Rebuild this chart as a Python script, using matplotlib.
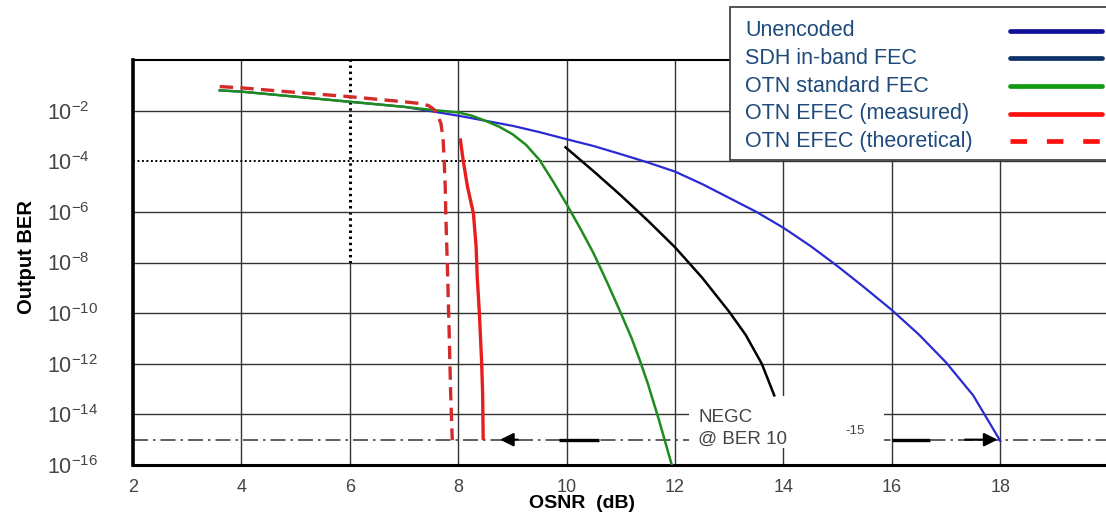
import numpy as np
import matplotlib
matplotlib.use("Agg")
import matplotlib.pyplot as plt
from matplotlib.lines import Line2D
from matplotlib.patches import Rectangle

plt.rcParams['font.family'] = ['Liberation Sans', 'DejaVu Sans']
plt.rcParams['mathtext.fontset'] = 'custom'
plt.rcParams['mathtext.rm'] = 'Liberation Sans'
plt.rcParams['mathtext.it'] = 'Liberation Sans'

W, H = 1106, 512

# OSNR (dB) against log10(output BER)
unenc_x = [3.6, 4, 5, 6, 7, 8, 8.5, 9, 9.5, 10, 10.5, 11, 11.5, 12, 12.5, 13, 13.5, 14,
           14.5, 15, 15.5, 16, 16.5, 17, 17.5, 18]
unenc_y = [-1.2, -1.25, -1.45, -1.65, -1.85, -2.2, -2.4, -2.6, -2.85, -3.13, -3.4, -3.72,
           -4.05, -4.41, -4.9, -5.45, -6.0, -6.63, -7.35, -8.15, -9.0, -9.88, -10.85,
           -11.95, -13.25, -15.05]

sdh_x = [9.98, 10.5, 11, 11.5, 12, 12.5, 13, 13.3, 13.6, 13.83]
sdh_y = [-3.45, -4.4, -5.35, -6.35, -7.4, -8.6, -9.95, -10.85, -12.0, -13.25]

otn_x = [3.6, 4, 5, 6, 7, 7.5, 8, 8.25, 8.5, 8.75, 9, 9.25, 9.5, 9.75, 10, 10.25, 10.5,
         10.75, 11, 11.2, 11.35, 11.5, 11.7, 11.94]
otn_y = [-1.2, -1.25, -1.45, -1.65, -1.85, -1.97, -2.07, -2.2, -2.4, -2.63, -2.93, -3.35,
         -3.95, -4.8, -5.7, -6.65, -7.65, -8.8, -10.0, -11.0, -11.86, -12.8, -14.2, -16.0]

efec_meas_x = [8.04, 8.09, 8.17, 8.28, 8.33, 8.35, 8.39, 8.43, 8.45, 8.46]
efec_meas_y = [-3.16, -3.95, -5.0, -6.06, -7.38, -8.56, -10.0, -11.86, -13.17, -14.95]

efec_th_x = [3.6, 4, 5, 6, 7, 7.3, 7.45, 7.55, 7.62, 7.68, 7.72, 7.74, 7.76, 7.77, 7.8,
             7.83, 7.86, 7.89]
efec_th_y = [-1.05, -1.1, -1.28, -1.45, -1.65, -1.72, -1.8, -1.95, -2.2, -2.5, -3.1, -3.95,
             -5.0, -6.06, -8.17, -10.54, -13.17, -15.02]

legend_labels = ["Unencoded", "SDH in-band FEC", "OTN standard FEC",
                 "OTN EFEC (measured)", "OTN EFEC (theoretical)"]
legend_colors = ["#10109a", "#0c3366", "#119a11", "#ff1010", "#ff1010"]

x_ticks = [2, 4, 6, 8, 10, 12, 14, 16, 18]
y_exps = [-2, -4, -6, -8, -10, -12, -14, -16]
negc_ber = 1e-15


def fx(px):
    return px / W


def fy(py):
    return 1 - py / H


fig = plt.figure(figsize=(W / 100, H / 100), dpi=100)
ax = fig.add_axes([fx(133), fy(465), fx(W - 133), (465 - 60) / H])
ax.set_yscale('log')
ax.set_xlim(2, 19.95)
ax.set_ylim(1e-16, 1)

# grid, drawn by hand because parts are dotted or cut
gcol = '#333333'
for xv in [4, 8, 10, 12, 14, 16, 18]:
    ax.vlines(xv, 1e-16, 1, color=gcol, lw=1.0, zorder=1)
ax.vlines(6, 1e-8, 1, color='black', lw=2.2, linestyles=(0, (0.8, 1.2)), zorder=1)
ax.vlines(6, 1e-16, 1e-8, color=gcol, lw=1.0, zorder=1)
for e in [-2, -6, -8, -10, -12, -14]:
    ax.hlines(10.0 ** e, 2, 19.95, color=gcol, lw=1.0, zorder=1)
ax.hlines(1e-4, 2, 9.55, color='black', lw=1.4, linestyles=(0, (1, 1.3)), zorder=1)
ax.hlines(1e-4, 9.55, 19.95, color=gcol, lw=1.0, zorder=1)

# NEGC line at BER 1e-15
ax.hlines(negc_ber, 2, 19.95, color='#444444', lw=1.2, linestyles=(0, (9, 3, 1.5, 3)), zorder=1)
ax.add_patch(Rectangle((12.25, 10 ** -15.34), 15.85 - 12.25, 10 ** -13.28 - 10 ** -15.34,
                       facecolor='white', edgecolor='none', zorder=2))

ax.semilogy(unenc_x, 10.0 ** np.array(unenc_y), color='#2a2ad2', lw=1.6, zorder=3)
ax.semilogy(sdh_x, 10.0 ** np.array(sdh_y), color='black', lw=1.8, zorder=3)
ax.semilogy(otn_x, 10.0 ** np.array(otn_y), color='#1e8c1e', lw=1.8, zorder=3)
ax.semilogy(efec_th_x, 10.0 ** np.array(efec_th_y), color='#d42a2a', lw=2.4,
            dashes=(4, 2.2), zorder=3)
ax.semilogy(efec_meas_x, 10.0 ** np.array(efec_meas_y), color='#e81e1e', lw=2.4, zorder=4)

# arrows on the NEGC line
ax.hlines(negc_ber, 9.85, 10.6, color='black', lw=2.4, zorder=3)
ax.hlines(negc_ber, 16.0, 16.7, color='black', lw=2.4, zorder=3)
ax.annotate("", xy=(8.72, negc_ber), xytext=(9.15, negc_ber),
            arrowprops=dict(arrowstyle='-|>', color='black', lw=1.6, mutation_scale=20), zorder=4)
ax.annotate("", xy=(18.0, negc_ber), xytext=(17.3, negc_ber),
            arrowprops=dict(arrowstyle='-|>', color='black', lw=1.6, mutation_scale=20), zorder=4)

for s in ['left', 'bottom', 'top']:
    ax.spines[s].set_color('black')
ax.spines['left'].set_linewidth(2.6)
ax.spines['bottom'].set_linewidth(2.2)
ax.spines['top'].set_linewidth(1.5)
ax.spines['right'].set_visible(False)

ax.set_xticks(x_ticks)
ax.set_xticklabels([str(t) for t in x_ticks])
ax.set_yticks([10.0 ** e for e in y_exps])
ax.set_yticklabels([r"$10^{%d}$" % e for e in y_exps])
ax.yaxis.set_minor_locator(matplotlib.ticker.NullLocator())
ax.tick_params(axis='both', length=0, colors='#444444')
ax.tick_params(axis='x', labelsize=13, pad=10)
ax.tick_params(axis='y', labelsize=15.5, pad=62)
for lab in ax.get_yticklabels():
    lab.set_horizontalalignment('left')

fig.text(fx(26), fy(257), "Output BER", rotation=90, fontsize=14.5, fontweight='bold',
         family=['Liberation Sans Narrow', 'Liberation Sans'], ha='center', va='center')
fig.text(fx(582), fy(504), "OSNR  (dB)", fontsize=14, fontweight='bold', ha='center', va='center')

fig.text(fx(698), fy(418), "NEGC", fontsize=13.5, color='#444444', ha='left', va='center')
fig.text(fx(698), fy(439), "@ BER 10", fontsize=13.5, color='#444444', ha='left', va='center')
fig.text(fx(845), fy(431), "-15", fontsize=9.5, color='#444444', ha='left', va='center')

# legend box, entries left aligned with samples on the right
fig.patches.append(Rectangle((fx(730), fy(160)), fx(390), 153 / H, transform=fig.transFigure,
                             facecolor='white', edgecolor='#444444', lw=1.3, zorder=5))
rows = [31, 58, 86, 114, 141]
for i, (lab, col) in enumerate(zip(legend_labels, legend_colors)):
    fig.text(fx(745), fy(rows[i]), lab, fontsize=15.5, color='#1f4a7c', ha='left',
             va='center', zorder=6)
    ls = '-' if i < 4 else (0, (3.5, 4.2))
    fig.lines.append(Line2D([fx(1010), fx(1102)], [fy(rows[i]), fy(rows[i])],
                            transform=fig.transFigure, color=col, lw=3.4, ls=ls,
                            solid_capstyle='round', zorder=6))

fig.savefig("out.png", dpi=100)
